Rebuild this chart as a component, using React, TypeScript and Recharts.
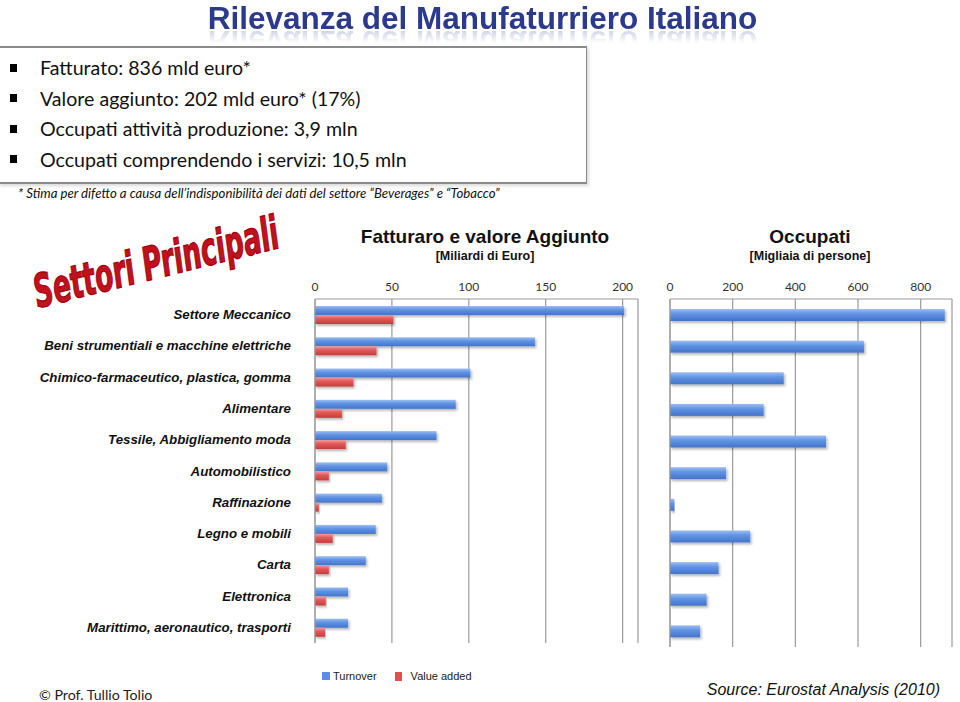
import { Bar, BarChart, CartesianGrid, XAxis, YAxis } from "recharts";

const sectors = [
  "Settore Meccanico",
  "Beni strumentiali e macchine elettriche",
  "Chimico-farmaceutico, plastica, gomma",
  "Alimentare",
  "Tessile, Abbigliamento moda",
  "Automobilistico",
  "Raffinazione",
  "Legno e mobili",
  "Carta",
  "Elettronica",
  "Marittimo, aeronautico, trasporti",
];

const turnover = [201, 143, 101, 91.5, 79, 47, 43.5, 39.5, 33, 21.5, 21.5];
const valueAdded = [51, 40, 25, 17.5, 20, 9, 2.5, 11.5, 9, 7, 6.5];
const occupati = [877, 619, 363, 299, 498, 179, 14, 256, 155, 117, 96];

const euroTicks = [0, 50, 100, 150, 200];
const peopleTicks = [0, 200, 400, 600, 800];

const bullets = [
  "Fatturato: 836 mld euro*",
  "Valore aggiunto: 202 mld euro* (17%)",
  "Occupati attività produzione: 3,9 mln",
  "Occupati comprendendo i servizi: 10,5 mln",
];

const euroData = sectors.map((name, i) => ({
  name,
  turnover: turnover[i],
  valueAdded: valueAdded[i],
}));
const peopleData = sectors.map((name, i) => ({ name, occupati: occupati[i] }));

const axisGray = "#9a9a9a";
const tickFont = { fontFamily: "Lato, sans-serif", fontSize: 12, fill: "#333" };

function SectorTick({ x, y, payload }: any) {
  return (
    <text
      x={x - 16}
      y={y}
      textAnchor="end"
      dominantBaseline="central"
      fontFamily="Arial, 'Liberation Sans', sans-serif"
      fontSize={13.3}
      fontWeight="bold"
      fontStyle="italic"
      fill="#111"
    >
      {payload.value}
    </text>
  );
}

// bar with the soft drop shadow of the original slide
function ShadowBar(props: any) {
  const { x, y, width, height, fill } = props;
  if (!width || width <= 0) return null;
  return <rect x={x} y={y} width={width} height={height} fill={fill} filter="url(#barShadow)" />;
}

function BarDefs() {
  return (
    <defs>
      <linearGradient id="blueBar" x1="0" y1="0" x2="0" y2="1">
        <stop offset="0%" stopColor="#9dbdf2" />
        <stop offset="40%" stopColor="#6194e4" />
        <stop offset="100%" stopColor="#4374c9" />
      </linearGradient>
      <linearGradient id="redBar" x1="0" y1="0" x2="0" y2="1">
        <stop offset="0%" stopColor="#f39a9a" />
        <stop offset="40%" stopColor="#e35a5a" />
        <stop offset="100%" stopColor="#c43c3c" />
      </linearGradient>
      <filter id="barShadow" x="-5%" y="-30%" width="115%" height="190%">
        <feDropShadow dx="1.5" dy="2" stdDeviation="1.3" floodColor="#000" floodOpacity="0.28" />
      </filter>
    </defs>
  );
}

export default function App() {
  return (
    <div
      style={{
        position: "absolute",
        left: 0,
        top: 0,
        width: 960,
        height: 702,
        background: "#fff",
        overflow: "hidden",
      }}
    >
      {/* title with its reflection */}
      <div
        style={{
          position: "absolute",
          left: 0,
          width: 965,
          top: 0,
          textAlign: "center",
          fontFamily: "Arial, 'Liberation Sans', sans-serif",
          fontWeight: "bold",
          fontSize: 31.5,
          color: "#2c3a8e",
          whiteSpace: "nowrap",
        }}
      >
        <span
          style={{
            display: "inline-block",
            WebkitBoxReflect:
              "below -14px linear-gradient(to bottom, transparent 45%, rgba(0,0,0,0.35))",
          } as any}
        >
          Rilevanza del Manufaturriero Italiano
        </span>
      </div>

      {/* bullet box */}
      <div
        style={{
          position: "absolute",
          left: -2,
          top: 46,
          width: 588,
          height: 134,
          background: "#fff",
          borderTop: "2px solid #8a8a8a",
          borderBottom: "2px solid #8a8a8a",
          borderRight: "1px solid #8a8a8a",
          boxShadow: "2px 2px 3px rgba(0,0,0,0.15)",
        }}
      />
      {bullets.map((b, i) => (
        <div
          key={b}
          style={{
            position: "absolute",
            left: 10,
            top: 56 + i * 30.5,
            fontFamily: "Lato, sans-serif",
            fontSize: 19.6,
            color: "#111",
            whiteSpace: "nowrap",
            display: "flex",
            alignItems: "center",
          }}
        >
          <span
            style={{
              display: "inline-block",
              width: 7,
              height: 8,
              background: "#000",
              marginRight: 23,
            }}
          />
          {b}
        </div>
      ))}
      <div
        style={{
          position: "absolute",
          left: 18,
          top: 185,
          fontFamily: "Lato, sans-serif",
          fontStyle: "italic",
          fontSize: 13.2,
          color: "#111",
          whiteSpace: "nowrap",
        }}
      >
        * Stima per difetto a causa dell’indisponibilità dei dati del settore “Beverages” e “Tobacco”
      </div>

      {/* Settori Principali */}
      <svg style={{ position: "absolute", left: 0, top: 170 }} width={340} height={160}>
        <text
          x={0}
          y={0}
          transform="translate(38 138) rotate(-14) scale(0.64 1)"
          fontFamily="'Liberation Sans Narrow', 'DejaVu Sans Condensed', sans-serif"
          fontWeight="bold"
          fontStyle="italic"
          fontSize={46}
          fill="#c2101c"
          stroke="#a00010"
          strokeWidth={1.2}
        >
          Settori Principali
        </text>
      </svg>

      {/* chart titles */}
      <div
        style={{
          position: "absolute",
          left: 335,
          width: 300,
          top: 226,
          textAlign: "center",
          fontFamily: "Arial, 'Liberation Sans', sans-serif",
          fontWeight: "bold",
          color: "#111",
        }}
      >
        <div style={{ fontSize: 19 }}>Fatturaro e valore Aggiunto</div>
        <div style={{ fontSize: 12.5, marginTop: 1 }}>[Miliardi di Euro]</div>
      </div>
      <div
        style={{
          position: "absolute",
          left: 660,
          width: 300,
          top: 226,
          textAlign: "center",
          fontFamily: "Arial, 'Liberation Sans', sans-serif",
          fontWeight: "bold",
          color: "#111",
        }}
      >
        <div style={{ fontSize: 19 }}>Occupati</div>
        <div style={{ fontSize: 12.5, marginTop: 1 }}>[Migliaia di persone]</div>
      </div>

      {/* left chart: turnover + value added */}
      <div style={{ position: "absolute", left: 0, top: 270 }}>
        <BarChart
          width={660}
          height={385}
          data={euroData}
          layout="vertical"
          margin={{ top: 0, right: 22, bottom: 12, left: 0 }}
          barSize={9}
          barGap={0}
        >
          <BarDefs />
          <CartesianGrid horizontal={false} stroke={axisGray} strokeWidth={1.2} />
          <XAxis
            type="number"
            orientation="top"
            domain={[0, 210]}
            ticks={euroTicks}
            height={29}
            tickLine={false}
            tick={tickFont}
            axisLine={{ stroke: axisGray }}
          />
          <YAxis
            type="category"
            dataKey="name"
            width={315}
            tickLine={false}
            axisLine={{ stroke: axisGray }}
            tick={<SectorTick />}
            interval={0}
          />
          <Bar
            dataKey="turnover"
            name="Turnover"
            fill="url(#blueBar)"
            shape={<ShadowBar />}
            isAnimationActive={false}
          />
          <Bar
            dataKey="valueAdded"
            name="Value added"
            fill="url(#redBar)"
            shape={<ShadowBar />}
            isAnimationActive={false}
          />
        </BarChart>
      </div>

      {/* right chart: occupati */}
      <div style={{ position: "absolute", left: 640, top: 270 }}>
        <BarChart
          width={320}
          height={385}
          data={peopleData}
          layout="vertical"
          margin={{ top: 0, right: 8, bottom: 8, left: 0 }}
          barSize={12}
        >
          <BarDefs />
          <CartesianGrid horizontal={false} stroke={axisGray} strokeWidth={1.2} />
          <XAxis
            type="number"
            orientation="top"
            domain={[0, 900]}
            ticks={peopleTicks}
            height={29}
            tickLine={false}
            tick={tickFont}
            axisLine={{ stroke: axisGray }}
          />
          <YAxis
            type="category"
            dataKey="name"
            width={30}
            tick={false}
            tickLine={false}
            axisLine={{ stroke: axisGray }}
          />
          <Bar
            dataKey="occupati"
            name="Occupati"
            fill="url(#blueBar)"
            shape={<ShadowBar />}
            isAnimationActive={false}
          />
        </BarChart>
      </div>

      {/* legend */}
      <div
        style={{
          position: "absolute",
          left: 322,
          top: 670,
          display: "flex",
          alignItems: "center",
          fontFamily: "Arial, 'Liberation Sans', sans-serif",
          fontSize: 11,
          color: "#222",
        }}
      >
        <span style={{ width: 8, height: 8, background: "#5b8fe0", marginRight: 3 }} />
        <span style={{ marginRight: 18 }}>Turnover</span>
        <span style={{ width: 7, height: 9, background: "#e05050", marginRight: 9 }} />
        <span>Value added</span>
      </div>

      {/* footer */}
      <div
        style={{
          position: "absolute",
          left: 39,
          top: 686,
          fontFamily: "Lato, sans-serif",
          fontSize: 14.2,
          color: "#222",
          whiteSpace: "nowrap",
        }}
      >
        © Prof. Tullio Tolio
      </div>
      <div
        style={{
          position: "absolute",
          right: 20,
          top: 681,
          fontFamily: "Arial, 'Liberation Sans', sans-serif",
          fontStyle: "italic",
          fontSize: 16,
          color: "#111",
          whiteSpace: "nowrap",
        }}
      >
        Source: Eurostat Analysis (2010)
      </div>
    </div>
  );
}
